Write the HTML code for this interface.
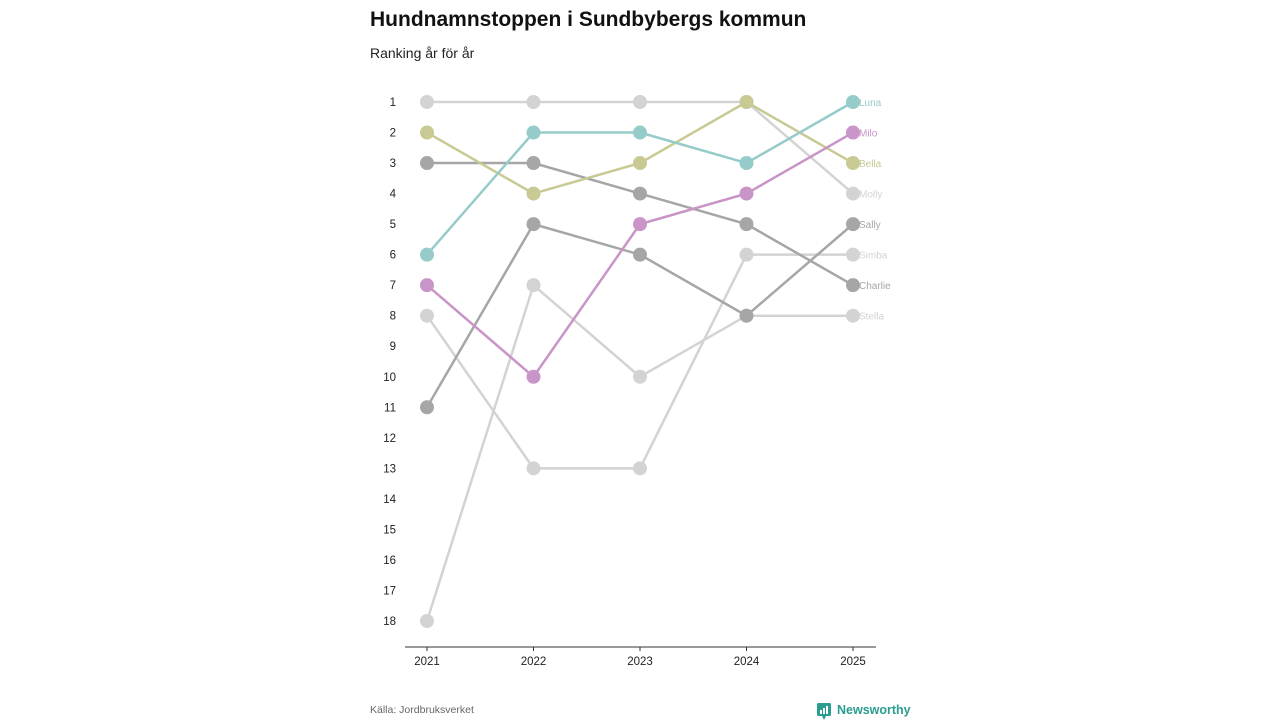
<!DOCTYPE html>
<html><head><meta charset="utf-8">
<style>
body{margin:0;background:#fff;font-family:"Liberation Sans",sans-serif;}
#wrap{position:relative;width:1280px;height:720px;overflow:hidden;}
</style></head>
<body>
<div id="wrap">
<svg id="chart" width="1280" height="720">
<text x="370" y="26" font-size="21" font-weight="bold" fill="#111">Hundnamnstoppen i Sundbybergs kommun</text>
<text x="370" y="58" font-size="14" fill="#222">Ranking år för år</text>
<text x="370" y="713" font-size="10.5" fill="#666">Källa: Jordbruksverket</text>
<g>
<rect x="817" y="703" width="14" height="13" rx="1.5" fill="#2a9d8f"/>
<path d="M822 716 L824 720 L826 716 Z" fill="#2a9d8f"/>
<rect x="820" y="710" width="2" height="4" fill="#fff"/><rect x="823" y="708" width="2" height="6" fill="#fff"/><rect x="826" y="706" width="2" height="8" fill="#fff"/>
<text x="837" y="714" font-size="12.5" font-weight="bold" fill="#2a9d8f">Newsworthy</text>
</g>
</svg>
</div>
<script>
const years=["2021","2022","2023","2024","2025"];
const rankTicks=[1,2,3,4,5,6,7,8,9,10,11,12,13,14,15,16,17,18];
const names=["Molly","Stella","Simba","Charlie","Sally","Bella","Milo","Luna"];
const colors=["#d3d3d3","#d3d3d3","#d3d3d3","#a6a6a6","#a6a6a6","#c9c994","#c994c8","#95cbc8"];
const molly=[1,1,1,1,4];
const stella=[18,7,10,8,8];
const simba=[8,13,13,6,6];
const charlie=[3,3,4,5,7];
const sally=[11,5,6,8,5];
const bella=[2,4,3,1,3];
const milo=[7,10,5,4,2];
const luna=[6,2,2,3,1];
const series=[molly,stella,simba,charlie,sally,bella,milo,luna];

const NS="http://www.w3.org/2000/svg";
const svg=document.getElementById("chart");
const x=i=>427+i*(853-427)/(years.length-1);
const y=r=>102+(r-1)*(621-102)/17;
function el(t,a,p){const e=document.createElementNS(NS,t);for(const k in a)e.setAttribute(k,a[k]);(p||svg).appendChild(e);return e;}

const ax=el("line",{x1:405,x2:876,y1:647,y2:647,stroke:"#333","stroke-width":1});


years.forEach((yr,i)=>{
  const t=el("line",{x1:x(i),x2:x(i),y1:647,y2:651,stroke:"#333"});
  
  
  const l=el("text",{x:x(i),y:665,"font-size":11.5,"text-anchor":"middle",fill:"#222"});
  l.textContent=yr;
  
  
});
rankTicks.forEach(r=>{
  const l=el("text",{x:396,y:y(r)+4,"font-size":11.5,"text-anchor":"end",fill:"#222"});
  l.textContent=r;
  
  
});
series.forEach((s,k)=>{
  const g=el("g",{});
  
  
  const p=el("polyline",{points:s.map((r,i)=>x(i)+","+y(r)).join(" "),fill:"none",stroke:colors[k],"stroke-width":2.5},g);
  
  
  s.forEach((r,i)=>{
    const c=el("circle",{cx:x(i),cy:y(r),r:7,fill:colors[k]},g);
    
    
  });
  const t=el("text",{x:x(s.length-1)+6,y:y(s[s.length-1])+4,"font-size":10,fill:colors[k]},g);
  t.textContent=names[k];
  
  
});
</script>
</body></html>
